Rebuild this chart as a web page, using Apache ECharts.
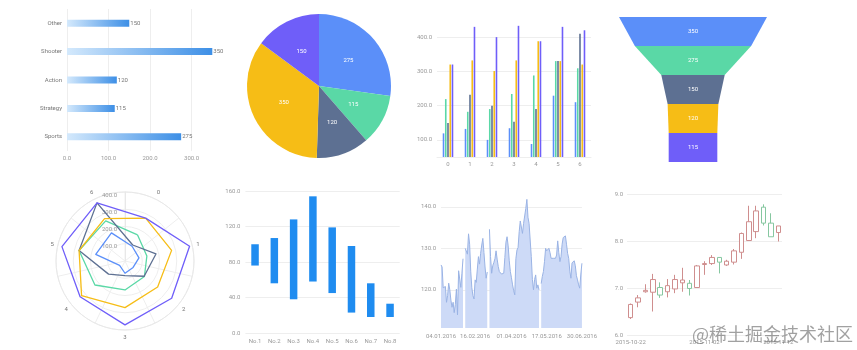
<!DOCTYPE html>
<html lang="en">
<head>
<meta charset="UTF-8">
<title>Dashboard</title>
<script src="https://cdn.jsdelivr.net/npm/echarts@6.0.0/dist/echarts.min.js"></script>
<style>
  body { margin: 0; background: #fff; }
  #wrap { position: relative; width: 857px; height: 350px; overflow: hidden; }
  .cell { position: absolute; overflow: hidden; }
  #mark { position: absolute; left: 692px; top: 321px; font-size: 18px; font-family: "Noto Sans CJK SC"; color: rgba(110,110,110,0.65); white-space: nowrap; line-height: 24px; }
</style>
</head>
<body>
<div id="wrap">
  <div class="cell" id="c2" style="left:215px;top:0;width:195px;height:175px"></div>
  <div class="cell" id="c1" style="left:0;top:0;width:225px;height:175px"></div>
  <div class="cell" id="c3" style="left:410px;top:0;width:190px;height:175px"></div>
  <div class="cell" id="c4" style="left:600px;top:0;width:257px;height:175px"></div>
  <div class="cell" id="c5" style="left:0;top:175px;width:215px;height:175px"></div>
  <div class="cell" id="c6" style="left:215px;top:175px;width:195px;height:175px"></div>
  <div class="cell" id="c7" style="left:410px;top:175px;width:190px;height:175px"></div>
  <div class="cell" id="c8" style="left:600px;top:175px;width:257px;height:175px"></div>
  <div id="mark">@稀土掘金技术社区</div>
</div>
<script type="text/javascript">
// genre data (bar, pie, funnel)
const genres = ['Sports', 'Strategy', 'Action', 'Shooter', 'Other'];
const genreSales = [275, 115, 120, 350, 150];

// grouped bars
const weekIdx = ['0', '1', '2', '3', '4', '5', '6'];
const groupA = [119, 132, 100, 134, 88, 229, 210];
const groupB = [219, 182, 190, 234, 288, 330, 309];
const groupC = [149, 232, 200, 153, 190, 330, 410];
const groupD = [320, 332, 301, 332, 388, 330, 320];
const groupE = [320, 430, 400, 433, 388, 430, 420];

// polar / radar
const radarDims = ['0', '1', '2', '3', '4', '5', '6'];
const radarBlue = [95, 83, 60, 71, 40, 174, 181];
const radarTeal = [168, 130, 144, 168, 223, 273, 258];
const radarDark = [103, 184, 142, 85, 122, 273, 374];
const radarYellow = [276, 277, 242, 270, 322, 273, 273];
const radarPurple = [276, 384, 346, 370, 333, 375, 374];

// floating range bars
const rankNames = ['No.1', 'No.2', 'No.3', 'No.4', 'No.5', 'No.6', 'No.7', 'No.8'];
const rangeLow = [76, 56, 38, 58, 45, 23, 18, 18];
const rangeHigh = [100, 107, 128, 154, 119, 98, 56, 33];

// area (weekdays 04.01.2016 - 30.06.2016)
const areaLabelDates = ['04.01.2016', '16.02.2016', '01.04.2016', '17.05.2016', '30.06.2016'];
const areaValues = [
  126, 125.5, 120.5, 120.2, 120.8, 117, 118.6, 121.6, 120, 117.5,
  115.8, 117, 114.5, 116.5, 120.2, 114, 124.6, 124.8, 120.6, 124,
  127.5, null, 130, 129.6, 128.6, 133.5, 131, 124.5, 120.5, 118.6,
  117.8, 122.4, 121.8, 125, 128, 126.2, 128.8, 130.8, 132.4, 129,
  125.5, 122.8, 124.3, null, 134.6, 128, 124, 125.8, 126.6, 127.5,
  129.4, 127.4, 125.6, 124.4, 124, 123.8, 123.5, 124, 127.8, 131.5,
  132.8, 130.6, 127, 124.4, 122.9, 121.2, 119.8, 118.8, 127.5, 129.6,
  130.2, 134, 136.6, 136.2, 133.6, 136, 137.8, 139.6, 141.8, 137.5,
  136, 135.6, 128, 122.5, 120, 122.5, 123.6, 120.4, 121.2, 120,
  null, 121.5, 123.2, 124.4, 126.8, 130, 129.4, 129.6, 130, 129,
  127.6, 127.2, 127.6, 127.2, 127.6, 128.4, 131.8, 129, 126.8, 128,
  131, 132.6, 133, 133, 131, 128.8, 127.6, 124.5, 122.8, 126.5,
  126.4, 127, 125.8, 123.4, 122.4, 121.2, 120.4, 123.8, 126.4
];

// candlestick
const candleDates = ['2015-10-22', '2015-10-23', '2015-10-24', '2015-10-25', '2015-10-26', '2015-10-27',
  '2015-10-28', '2015-10-29', '2015-10-30', '2015-10-31', '2015-11-02', '2015-11-03', '2015-11-04',
  '2015-11-05', '2015-11-06', '2015-11-07', '2015-11-08', '2015-11-09', '2015-11-10', '2015-11-11', '2015-11-12'];
const candleOpen  = [6.37, 6.70, 6.92, 6.91, 7.01, 6.92, 6.98, 7.11, 7.10, 7.01, 7.50, 7.52, 7.65, 7.49, 7.55, 7.76, 8.01, 8.20, 8.72, 8.38, 8.18];
const candleClose = [6.65, 6.79, 6.95, 7.18, 6.85, 7.05, 7.18, 7.17, 6.99, 7.47, 7.52, 7.65, 7.55, 7.57, 7.79, 8.16, 8.41, 8.64, 8.38, 8.09, 8.32];
const candleLow   = [6.34, 6.59, 6.90, 6.50, 6.79, 6.80, 6.89, 6.92, 6.84, 7.01, 7.28, 7.49, 7.31, 7.47, 7.50, 7.62, 8.00, 8.06, 8.33, 8.09, 7.99];
const candleHigh  = [6.67, 6.85, 7.08, 7.30, 7.12, 7.19, 7.28, 7.43, 7.17, 7.49, 7.57, 7.70, 7.65, 7.60, 7.83, 8.18, 8.75, 8.75, 8.78, 8.59, 8.32];

const palette = ['#5B8FF9', '#5AD8A6', '#5D7092', '#F6BD16', '#6F5EF9'];
const gridLine = { lineStyle: { color: '#eeeeee', width: 1 } };
const fmt1 = v => Number(v).toFixed(1);

function mk(id) { return echarts.init(document.getElementById(id)); }

// 1. horizontal bars
mk('c1').setOption({
  textStyle: { fontFamily: 'Roboto' },
  grid: { left: 67, top: 9, width: 145.3, height: 142 },
  xAxis: {
    type: 'value', min: 0, max: 350, interval: 100,
    axisLine: { show: false }, axisTick: { show: false },
    axisLabel: { fontSize: 6, color: '#999', margin: 4, showMaxLabel: false, formatter: fmt1 },
    splitLine: Object.assign({ showMaxLine: false }, gridLine)
  },
  yAxis: {
    type: 'category', data: genres,
    axisLine: { show: false }, axisTick: { show: false },
    axisLabel: { fontSize: 6, color: '#777', margin: 5 }
  },
  series: [{
    type: 'bar', data: genreSales, barWidth: 7,
    itemStyle: { color: new echarts.graphic.LinearGradient(0, 0, 1, 0, [
      { offset: 0, color: '#d4e9fc' }, { offset: 1, color: '#3d8fe6' }]) },
    label: { show: true, position: 'right', distance: 1, fontSize: 6, color: '#777' }
  }]
});

// 2. pie
mk('c2').setOption({
  textStyle: { fontFamily: 'Roboto' },
  color: palette,
  series: [{
    type: 'pie', center: [104, 86], radius: 72, startAngle: 90,
    itemStyle: { borderWidth: 0 },
    label: { show: true, position: 'inside', color: '#fff', fontSize: 6, formatter: '{c}' },
    data: genres.map((g, i) => ({ name: g, value: genreSales[i] }))
  }]
});

// 3. grouped bars
const ticks3 = [100, 200, 300, 400];
mk('c3').setOption({
  textStyle: { fontFamily: 'Roboto' },
  color: palette,
  grid: { left: 27, top: 20, width: 154, height: 137 },
  xAxis: {
    type: 'category', data: weekIdx,
    axisLine: { lineStyle: { color: '#eeeeee' } }, axisTick: { show: false },
    axisLabel: { fontSize: 6, color: '#999', margin: 4 }
  },
  yAxis: {
    type: 'value', min: 50, max: 450,
    axisLine: { show: false }, axisTick: { show: false, customValues: ticks3 },
    axisLabel: { fontSize: 6, color: '#999', margin: 5, customValues: ticks3, formatter: fmt1 },
    splitLine: gridLine
  },
  series: [groupA, groupB, groupC, groupD, groupE].map(d => ({
    type: 'bar', data: d, barWidth: 1.6, barGap: '40%'
  }))
});

// 4. funnel
const funnelValues = genreSales.slice().sort((a, b) => b - a);
const funnelData = funnelValues.map((v, i) => ({ value: v, itemStyle: { color: palette[i] } }));
// invisible tail keeps the last layer rectangular
funnelData.push({ value: funnelValues[funnelValues.length - 1], itemStyle: { color: 'rgba(0,0,0,0)' }, label: { show: false } });
mk('c4').setOption({
  textStyle: { fontFamily: 'Roboto' },
  series: [{
    type: 'funnel', left: 19, top: 17, width: 148, height: 174,
    min: 0, max: 350, minSize: '0%', maxSize: '100%', sort: 'none', gap: 0,
    itemStyle: { borderWidth: 0 },
    label: { show: true, position: 'inside', color: '#fff', fontSize: 6, formatter: '{c}' },
    labelLine: { show: false },
    data: funnelData
  }]
});

// 5. polar grid + radar polygons
const radarOrder = [0, 6, 5, 4, 3, 2, 1];
mk('c5').setOption({
  textStyle: { fontFamily: 'Roboto' },
  polar: { center: [125, 86], radius: 69 },
  angleAxis: {
    type: 'category', data: radarDims, startAngle: 90,
    axisLine: { lineStyle: { color: '#e8e8e8' } }, axisTick: { show: false },
    axisLabel: { fontSize: 6, color: '#777', margin: 4 },
    splitLine: { show: true, lineStyle: { color: '#eeeeee' } }
  },
  radiusAxis: {
    type: 'value', min: 0, max: 400, interval: 100,
    axisLine: { lineStyle: { color: '#e8e8e8' } }, axisTick: { show: false },
    axisLabel: { fontSize: 6, color: '#999', showMinLabel: false, formatter: fmt1, verticalAlign: 'top' },
    splitLine: { show: true, lineStyle: { color: '#eeeeee' } }
  },
  radar: {
    center: [125, 86], radius: 69, startAngle: 90 - 360 / 14, shape: 'circle',
    indicator: radarOrder.map(k => ({ name: radarDims[k], min: 0, max: 400 })),
    axisName: { show: false }, axisLine: { show: false },
    splitLine: { show: false }, splitArea: { show: false }
  },
  series: [{
    type: 'radar', symbol: 'none',
    data: [radarBlue, radarTeal, radarDark, radarYellow, radarPurple].map((arr, i) => ({
      value: radarOrder.map(k => arr[k]),
      lineStyle: { color: palette[i], width: 1.3 }
    }))
  }]
});

// 6. floating range bars
mk('c6').setOption({
  textStyle: { fontFamily: 'Roboto' },
  grid: { left: 30.4, top: 16, width: 154.3, height: 142 },
  xAxis: {
    type: 'category', data: rankNames,
    axisLine: { show: false }, axisTick: { show: false },
    axisLabel: { fontSize: 6, color: '#999', margin: 5 }
  },
  yAxis: {
    type: 'value', min: 0, max: 160, interval: 40,
    axisLine: { show: false }, axisTick: { show: false },
    axisLabel: { fontSize: 6, color: '#999', margin: 5, formatter: fmt1 },
    splitLine: gridLine
  },
  series: [
    { type: 'bar', stack: 'rng', data: rangeLow, barWidth: 7.5, itemStyle: { color: 'rgba(0,0,0,0)' } },
    { type: 'bar', stack: 'rng', data: rangeHigh.map((h, i) => h - rangeLow[i]), barWidth: 7.5, itemStyle: { color: '#1f8cf0' } }
  ]
});

// 7. area with gaps
const areaDates = [];
for (let d = new Date(2016, 0, 4); areaDates.length < areaValues.length; d.setDate(d.getDate() + 1)) {
  const wd = d.getDay();
  if (wd === 0 || wd === 6) continue;
  const dd = String(d.getDate()).padStart(2, '0');
  const mm = String(d.getMonth() + 1).padStart(2, '0');
  areaDates.push(dd + '.' + mm + '.' + d.getFullYear());
}
const ticks7 = [120, 130, 140];
mk('c7').setOption({
  textStyle: { fontFamily: 'Roboto' },
  grid: { left: 31, top: 19.4, width: 152, height: 133.6 },
  xAxis: {
    type: 'category', data: areaDates, boundaryGap: false,
    axisLine: { show: false }, axisTick: { show: false },
    axisLabel: { fontSize: 6, color: '#999', margin: 5, interval: (i, v) => areaLabelDates.includes(v) }
  },
  yAxis: {
    type: 'value', min: 110.8, max: 143,
    axisLine: { show: false }, axisTick: { show: false, customValues: ticks7 },
    axisLabel: { fontSize: 6, color: '#999', margin: 5, customValues: ticks7, formatter: fmt1 },
    splitLine: gridLine
  },
  series: [{
    type: 'line', data: areaValues, showSymbol: false, connectNulls: false,
    lineStyle: { color: '#9ab3e4', width: 1 },
    areaStyle: { color: '#cddaf7', opacity: 1 }
  }]
});

// 8. candlestick
mk('c8').setOption({
  textStyle: { fontFamily: 'Roboto' },
  grid: { left: 27, top: 19, width: 155, height: 141 },
  xAxis: {
    type: 'category', data: candleDates,
    axisLine: { show: false }, axisTick: { show: false },
    axisLabel: { fontSize: 6, color: '#999', margin: 4, interval: 9 }
  },
  yAxis: {
    type: 'value', min: 6, max: 9, interval: 1,
    axisLine: { show: false }, axisTick: { show: false },
    axisLabel: { fontSize: 6, color: '#999', margin: 4, formatter: fmt1 },
    splitLine: gridLine
  },
  series: [{
    type: 'candlestick', barWidth: 5,
    itemStyle: { color: '#fff', color0: '#fff', borderColor: '#cf8e8e', borderColor0: '#86c7a0', borderWidth: 1 },
    data: candleOpen.map((o, i) => [o, candleClose[i], candleLow[i], candleHigh[i]])
  }]
});
</script>
</body>
</html>
